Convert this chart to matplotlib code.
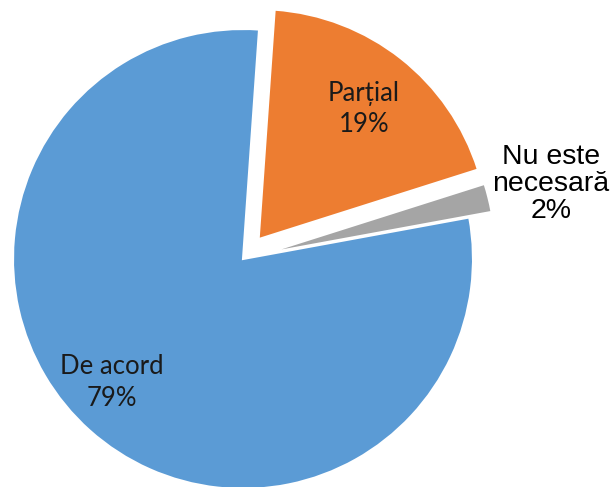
import matplotlib
matplotlib.use("Agg")
import matplotlib.pyplot as plt

# data (slice order: clockwise from the top)
labels = ["Parțial", "Nu este\nnecesară", "De acord"]
values = [19, 2, 79]
colors = ["#ED7D31", "#A5A5A5", "#5B9BD5"]
explode = [0.11, 0.1, 0]

plt.rcParams['font.family'] = ['Liberation Sans', 'DejaVu Sans']

fig = plt.figure(figsize=(6.13, 4.87), dpi=100)
ax = fig.add_axes([0, 0, 1, 1])

wedges, _ = ax.pie(values, colors=colors, explode=explode, startangle=86,
                   counterclock=False, radius=1,
                   wedgeprops=dict(edgecolor='white', linewidth=1.5))

# label positions (pixels from top-left), fonts
S = 230.0
cx, cy = 243, 228
label_px = [(364, 109), (551, 184), (112, 383)]
label_font = [['Lato', 'DejaVu Sans'], ['Liberation Sans', 'DejaVu Sans'], ['Lato', 'DejaVu Sans']]
label_size = [18.5, 20.5, 18.5]
label_ls = [1.35, 1.05, 1.35]
label_col = ["#1a1a1a", "#000000", "#1a1a1a"]
for lab, v, (px, py), fam, fs, ls, c in zip(labels, values, label_px, label_font,
                                             label_size, label_ls, label_col):
    x = (px - cx) / S
    y = (487 - py - cy) / S
    ax.text(x, y, f"{lab}\n{v}%", ha='center', va='center', fontsize=fs,
            family=fam, color=c, linespacing=ls)

ax.set_aspect('equal')
ax.set_xlim(-cx / S, (613 - cx) / S)
ax.set_ylim(-cy / S, (487 - cy) / S)
ax.axis('off')

fig.savefig("out.png", dpi=100)
